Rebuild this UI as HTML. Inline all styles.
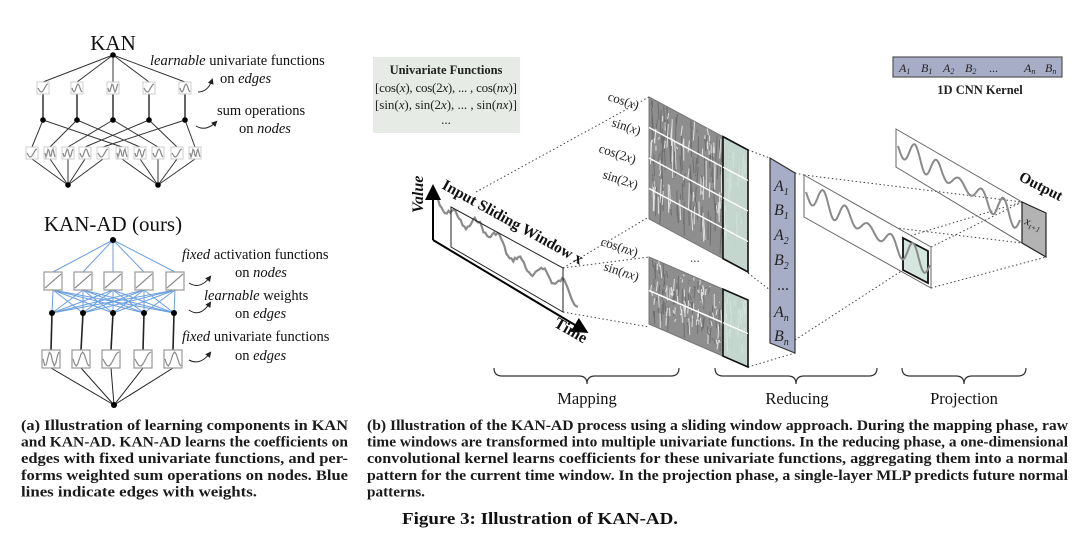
<!DOCTYPE html>
<html><head><meta charset="utf-8"><style>
html,body{margin:0;padding:0;background:#fff;}
svg{display:block;}
.cap{font-family:"Liberation Serif",serif;font-weight:bold;font-size:14.5px;fill:#1a1a1a;}
.ann{font-family:"Liberation Serif",serif;font-size:14.5px;fill:#111;}
.m{font-family:"Liberation Serif",serif;font-size:13px;fill:#222;}
</style></head><body>
<svg id="s" width="1080" height="537" viewBox="0 0 1080 537" xmlns="http://www.w3.org/2000/svg">
<defs>
<marker id="ah" markerWidth="8" markerHeight="8" refX="6" refY="4" orient="auto"><path d="M0,0 L8,4 L0,8 z" fill="#000"/></marker>
<marker id="sa" markerWidth="6" markerHeight="6" refX="4" refY="3" orient="auto"><path d="M0,0 L6,3 L0,6 z" fill="#222"/></marker>
</defs>

<text x="113" y="50" text-anchor="middle" font-family="Liberation Serif,serif" font-size="21" fill="#111">KAN</text>
<g id="kan" stroke="#333" stroke-width="1" fill="none"></g>
<text class="ann" x="150" y="65"><tspan font-style="italic">learnable</tspan> univariate functions</text>
<text class="ann" x="220" y="83">on <tspan font-style="italic">edges</tspan></text>
<text class="ann" x="217" y="115">sum operations</text>
<text class="ann" x="239" y="133">on <tspan font-style="italic">nodes</tspan></text>
<path d="M198,92 Q208,92 212,80" stroke="#222" fill="none" marker-end="url(#sa)"/>
<path d="M196,126 Q206,132 216,122" stroke="#222" fill="none" marker-end="url(#sa)"/>

<text x="113" y="231" text-anchor="middle" font-family="Liberation Serif,serif" font-size="21" fill="#111">KAN-AD (ours)</text>
<g id="kanad" fill="none"></g>
<text class="ann" x="182" y="259"><tspan font-style="italic">fixed</tspan> activation functions</text>
<text class="ann" x="235" y="277">on <tspan font-style="italic">nodes</tspan></text>
<text class="ann" x="204" y="300"><tspan font-style="italic">learnable</tspan> weights</text>
<text class="ann" x="235" y="318">on <tspan font-style="italic">edges</tspan></text>
<text class="ann" x="182" y="341"><tspan font-style="italic">fixed</tspan> univariate functions</text>
<text class="ann" x="235" y="360">on <tspan font-style="italic">edges</tspan></text>
<path d="M189,283 Q200,290 210,277" stroke="#222" fill="none" marker-end="url(#sa)"/>
<path d="M189,310 Q200,318 210,303" stroke="#222" fill="none" marker-end="url(#sa)"/>
<path d="M189,360 Q200,366 210,353" stroke="#222" fill="none" marker-end="url(#sa)"/>

<rect x="373" y="57" width="147" height="76" fill="#e6ebe6"/>
<text x="446" y="74" text-anchor="middle" font-family="Liberation Serif,serif" font-weight="bold" font-size="12.5" fill="#222">Univariate Functions</text>
<text class="m" x="446" y="92" text-anchor="middle" textLength="142">[cos(<tspan font-style="italic">x</tspan>), cos(2<tspan font-style="italic">x</tspan>), ... , cos(<tspan font-style="italic">nx</tspan>)]</text>
<text class="m" x="446" y="109" text-anchor="middle" textLength="142">[sin(<tspan font-style="italic">x</tspan>), sin(2<tspan font-style="italic">x</tspan>), ... , sin(<tspan font-style="italic">nx</tspan>)]</text>
<text class="m" x="446" y="124" text-anchor="middle">...</text>

<rect x="893" y="57" width="169" height="20" fill="#a7adc6" stroke="#555" stroke-width="1.2"/>
<g font-family="Liberation Serif,serif" font-style="italic" font-size="12" fill="#222">
<text x="899" y="72">A<tspan font-size="8" dy="2">1</tspan></text>
<text x="921" y="72">B<tspan font-size="8" dy="2">1</tspan></text>
<text x="943" y="72">A<tspan font-size="8" dy="2">2</tspan></text>
<text x="965" y="72">B<tspan font-size="8" dy="2">2</tspan></text>
<text x="989" y="72" font-style="normal">...</text>
<text x="1024" y="72">A<tspan font-size="8" dy="2">n</tspan></text>
<text x="1045" y="72">B<tspan font-size="8" dy="2">n</tspan></text>
</g>
<text x="980" y="94" text-anchor="middle" font-family="Liberation Serif,serif" font-weight="bold" font-size="12.5" fill="#222">1D CNN Kernel</text>

<g id="dots" stroke="#444" stroke-width="1" stroke-dasharray="1.5,2.5" fill="none">
<line x1="476" y1="192" x2="649" y2="97"/>
<line x1="563" y1="268" x2="649" y2="217"/>
<line x1="563" y1="268" x2="649" y2="257"/>
<line x1="563" y1="312" x2="649" y2="327"/>
<line x1="748" y1="150" x2="770" y2="158"/>
<line x1="748" y1="367" x2="795" y2="353"/>
<line x1="748" y1="273" x2="770" y2="290"/>
<line x1="795" y1="173" x2="804" y2="175"/>
<line x1="795" y1="340" x2="903" y2="270"/>
<line x1="804" y1="175" x2="1022" y2="202"/>
<line x1="804" y1="217" x2="1022" y2="243"/>
<line x1="931" y1="247" x2="1022" y2="202"/>
<line x1="931" y1="288" x2="1046" y2="257"/>
<line x1="903" y1="238" x2="1022" y2="202"/>
</g>

<g id="inp"></g>
<line x1="433" y1="240" x2="433" y2="188" stroke="#000" stroke-width="2" marker-end="url(#ah)"/>
<line x1="433" y1="240" x2="585" y2="331" stroke="#000" stroke-width="2" marker-end="url(#ah)"/>
<polygon points="451,207 563,268 563,312 451,247" fill="none" stroke="#222" stroke-width="1"/>
<text transform="translate(423,213) rotate(-90)" font-family="Liberation Serif,serif" font-style="italic" font-weight="bold" font-size="16" fill="#111">Value</text>
<text transform="translate(441,188) rotate(29)" font-family="Liberation Serif,serif" font-weight="bold" font-size="15.5" fill="#111">Input Sliding Window <tspan font-size="16">x</tspan></text>
<text transform="translate(553,326) rotate(30)" font-family="Liberation Serif,serif" font-weight="bold" font-size="16" fill="#111">Time</text>

<g id="blocks"></g>

<text class="m" font-size="14" transform="translate(607,100) rotate(18)">cos(<tspan font-style="italic">x</tspan>)</text>
<text class="m" font-size="14" transform="translate(611,126) rotate(18)">sin(<tspan font-style="italic">x</tspan>)</text>
<text class="m" font-size="14" transform="translate(598,152) rotate(18)">cos(2<tspan font-style="italic">x</tspan>)</text>
<text class="m" font-size="14" transform="translate(602,178) rotate(18)">sin(2<tspan font-style="italic">x</tspan>)</text>
<text class="m" font-size="14" transform="translate(600,245) rotate(18)">cos(<tspan font-style="italic">nx</tspan>)</text>
<text class="m" font-size="14" transform="translate(603,270) rotate(18)">sin(<tspan font-style="italic">nx</tspan>)</text>
<text x="690" y="262" font-family="Liberation Serif,serif" font-size="13" fill="#444">...</text>

<polygon points="770,158 795,173 795,353 770,343" fill="#a7adc6" stroke="#333" stroke-width="1.2"/>
<g font-family="Liberation Serif,serif" font-style="italic" font-size="16" fill="#222">
<text x="774" y="191">A<tspan font-size="10" dy="4">1</tspan></text>
<text x="774" y="215">B<tspan font-size="10" dy="4">1</tspan></text>
<text x="774" y="240">A<tspan font-size="10" dy="4">2</tspan></text>
<text x="774" y="265">B<tspan font-size="10" dy="4">2</tspan></text>
<text x="777" y="290" font-style="normal">...</text>
<text x="774" y="317">A<tspan font-size="10" dy="4">n</tspan></text>
<text x="774" y="341">B<tspan font-size="10" dy="4">n</tspan></text>
</g>

<polygon points="804,175 931,247 931,288 804,217" fill="#fff" stroke="#666" stroke-width="1"/>
<polygon points="903,238 928,251 928,283 903,270" fill="#d5e6df" stroke="#111" stroke-width="1.8"/>
<g id="waves"></g>
<polygon points="896,129 1022,202 1022,243 896,167" fill="none" stroke="#666" stroke-width="1"/>
<polygon points="1022,202 1046,213 1046,257 1022,243" fill="#b3b3b3" stroke="#222" stroke-width="1.2"/>
<text transform="translate(1024,224) rotate(20)" font-family="Liberation Serif,serif" font-style="italic" font-size="12" fill="#222">x<tspan font-size="8" dy="3">t+1</tspan></text>
<text transform="translate(1018,180) rotate(27)" font-family="Liberation Serif,serif" font-weight="bold" font-size="15" fill="#111">Output</text>

<g stroke="#333" stroke-width="1.2" fill="none">
<path d="M494,368 Q494,376 502,376 L579,376 Q587,376 587,384 Q587,376 595,376 L671,376 Q679,376 679,368"/>
<path d="M715,368 Q715,376 723,376 L788,376 Q796,376 796,384 Q796,376 804,376 L869,376 Q877,376 877,368"/>
<path d="M902,368 Q902,376 910,376 L956,376 Q964,376 964,384 Q964,376 972,376 L1018,376 Q1026,376 1026,368"/>
</g>
<g font-family="Liberation Serif,serif" font-size="16.5" fill="#111" text-anchor="middle">
<text x="587" y="404">Mapping</text>
<text x="797" y="404">Reducing</text>
<text x="964" y="404">Projection</text>
</g>

<text class="cap" x="21" y="430" textLength="327" lengthAdjust="spacingAndGlyphs">(a) Illustration of learning components in KAN</text>
<text class="cap" x="21" y="446.5" textLength="327" lengthAdjust="spacingAndGlyphs">and KAN-AD. KAN-AD learns the coefficients on</text>
<text class="cap" x="21" y="463" textLength="327" lengthAdjust="spacingAndGlyphs">edges with fixed univariate functions, and per-</text>
<text class="cap" x="21" y="480" textLength="327" lengthAdjust="spacingAndGlyphs">forms weighted sum operations on nodes. Blue</text>
<text class="cap" x="21" y="496.5" textLength="236" lengthAdjust="spacingAndGlyphs">lines indicate edges with weights.</text>
<text class="cap" x="367" y="430" textLength="701" lengthAdjust="spacingAndGlyphs">(b) Illustration of the KAN-AD process using a sliding window approach. During the mapping phase, raw</text>
<text class="cap" x="367" y="446.5" textLength="701" lengthAdjust="spacingAndGlyphs">time windows are transformed into multiple univariate functions. In the reducing phase, a one-dimensional</text>
<text class="cap" x="367" y="463" textLength="701" lengthAdjust="spacingAndGlyphs">convolutional kernel learns coefficients for these univariate functions, aggregating them into a normal</text>
<text class="cap" x="367" y="480" textLength="701" lengthAdjust="spacingAndGlyphs">pattern for the current time window. In the projection phase, a single-layer MLP predicts future normal</text>
<text class="cap" x="367" y="496.5" textLength="58" lengthAdjust="spacingAndGlyphs">patterns.</text>
<text x="540" y="524" text-anchor="middle" font-family="Liberation Serif,serif" font-weight="bold" font-size="17" fill="#111" textLength="276" lengthAdjust="spacingAndGlyphs">Figure 3: Illustration of KAN-AD.</text>
</svg>
<script>
var NS="http://www.w3.org/2000/svg";
function el(p,t,a){var e=document.createElementNS(NS,t);for(var k in a)e.setAttribute(k,a[k]);p.appendChild(e);return e;}
var seed=7;function rnd(){seed=(seed*9301+49297)%233280;return seed/233280;}
function mini(g,cx,cy,s,col,sw,k){
  el(g,"rect",{x:cx-s/2,y:cy-s/2,width:s,height:s,fill:"#fff",stroke:col,"stroke-width":sw});
  var d="",n=10;for(var i=0;i<=n;i++){var x=cx-s/2+1+i*(s-2)/n;var y;
   if(k==0)y=cy+s/2-2-(i/n)*(s-4);else y=cy+Math.sin(i/n*Math.PI*(k+0.5))*(s/2-2);
   d+=(i?"L":"M")+x.toFixed(1)+","+y.toFixed(1);}
  el(g,"path",{d:d,stroke:"#888","stroke-width":1.2,fill:"none"});
}
var g=document.getElementById("kan");
var tx=[43,77,113,149,185],bx=[32,50,68,85,103,122,140,158,177,195];
tx.forEach(function(x){el(g,"line",{x1:113,y1:55,x2:x,y2:82});el(g,"line",{x1:x,y1:94,x2:x,y2:120,"stroke-width":1.5});});
tx.forEach(function(x,i){el(g,"line",{x1:x,y1:120,x2:bx[i],y2:147});el(g,"line",{x1:x,y1:120,x2:bx[i+5],y2:147});});
bx.forEach(function(x,i){var nx=i<5?68:158;el(g,"line",{x1:x,y1:159,x2:nx,y2:185});});
tx.forEach(function(x,i){mini(g,x,88,12,"#ccc",1,i%3+1);});
bx.forEach(function(x,i){mini(g,x,153,12,"#ccc",1,(i*7)%4+1);});
[[113,55],[68,185],[158,185]].concat(tx.map(function(x){return [x,120]})).forEach(function(p){el(g,"circle",{cx:p[0],cy:p[1],r:2.8,fill:"#000",stroke:"none"});});
g=document.getElementById("kanad");
var ax=[53,83,113,144,175],nx2=[52,83,113,144,174],cx2=[51,81,111,143,173];
ax.forEach(function(x){el(g,"line",{x1:113,y1:240,x2:x,y2:272,stroke:"#6a9fe0","stroke-width":1});});
ax.forEach(function(x){nx2.forEach(function(n){el(g,"line",{x1:x,y1:290,x2:n,y2:313,stroke:"#6a9fe0","stroke-width":1});});});
nx2.forEach(function(n,i){el(g,"line",{x1:n,y1:313,x2:cx2[i],y2:350,stroke:"#222","stroke-width":1.6});});
cx2.forEach(function(x){el(g,"line",{x1:x,y1:368,x2:114,y2:405,stroke:"#222","stroke-width":1});});
ax.forEach(function(x){mini(g,x,281,18,"#999",1.2,0);});
cx2.forEach(function(x,i){mini(g,x,359,18,"#999",1.2,[3,2,1,1,2][i]);});
[[113,240],[114,405]].concat(nx2.map(function(x){return [x,313]})).forEach(function(p){el(g,"circle",{cx:p[0],cy:p[1],r:3,fill:"#000"});});
g=document.getElementById("inp");
var d="";for(var i=0;i<=80;i++){var t=i/80;var x=438+t*140;var base=200+t*(305-200)*0.78+t*18;
 var y=base+Math.sin(t*40)*6+Math.sin(t*13)*5+(rnd()-0.5)*4; d+=(i?"L":"M")+x.toFixed(1)+","+y.toFixed(1);}
el(g,"path",{d:d,stroke:"#8a8a8a","stroke-width":2.2,fill:"none"});
g=document.getElementById("blocks");
function block(x0,yt0,x1,yt1,h,rows){
  el(g,"polygon",{points:x0+","+yt0+" "+x1+","+yt1+" "+x1+","+(yt1+h)+" "+x0+","+(yt0+h),fill:"#8e8e8e",stroke:"#777"});
  var sl=(yt1-yt0)/(x1-x0);
  for(var k=0;k<220;k++){var x=x0+2+rnd()*(x1-x0-4);var yt=yt0+sl*(x-x0);var a=yt+rnd()*h*0.8,b=a+rnd()*h*0.25;
   el(g,"line",{x1:x,y1:a,x2:x+(rnd()-0.5)*3,y2:Math.min(b,yt+h-1),stroke:rnd()<0.45?"#e0e0e0":"#6e6e6e","stroke-width":1});}
  for(var r=1;r<rows;r++){var dy=h*r/rows;el(g,"line",{x1:x0,y1:yt0+dy,x2:x1,y2:yt1+dy,stroke:"#fff","stroke-width":1.5});}
  var gx=723,gyt=yt0+sl*(gx-x0);
  el(g,"polygon",{points:gx+","+gyt+" "+x1+","+yt1+" "+x1+","+(yt1+h)+" "+gx+","+(gyt+h),fill:"#cfe3da","fill-opacity":0.85,stroke:"#111","stroke-width":1.6});
  for(var r=1;r<rows;r++){var dy=h*r/rows;el(g,"line",{x1:gx,y1:gyt+dy,x2:x1,y2:yt1+dy,stroke:"#fff","stroke-width":1.2});}
}
block(649,97,748,150,122,4);
block(649,257,748,300,67,2);
g=document.getElementById("waves");
function wave(x0,y0,x1,y1,amp,cyc){var d="";for(var i=0;i<=120;i++){var t=i/120;var x=x0+t*(x1-x0),y=y0+t*(y1-y0)+Math.sin(t*cyc*2*Math.PI)*amp*(0.7+0.3*Math.sin(t*9));
 d+=(i?"L":"M")+x.toFixed(1)+","+y.toFixed(1);}el(g,"path",{d:d,stroke:"#8a8a8a","stroke-width":2,fill:"none"});}
wave(806,192,930,265,12,5.5);
wave(898,146,1020,220,12,5.5);
</script>
</body></html>
